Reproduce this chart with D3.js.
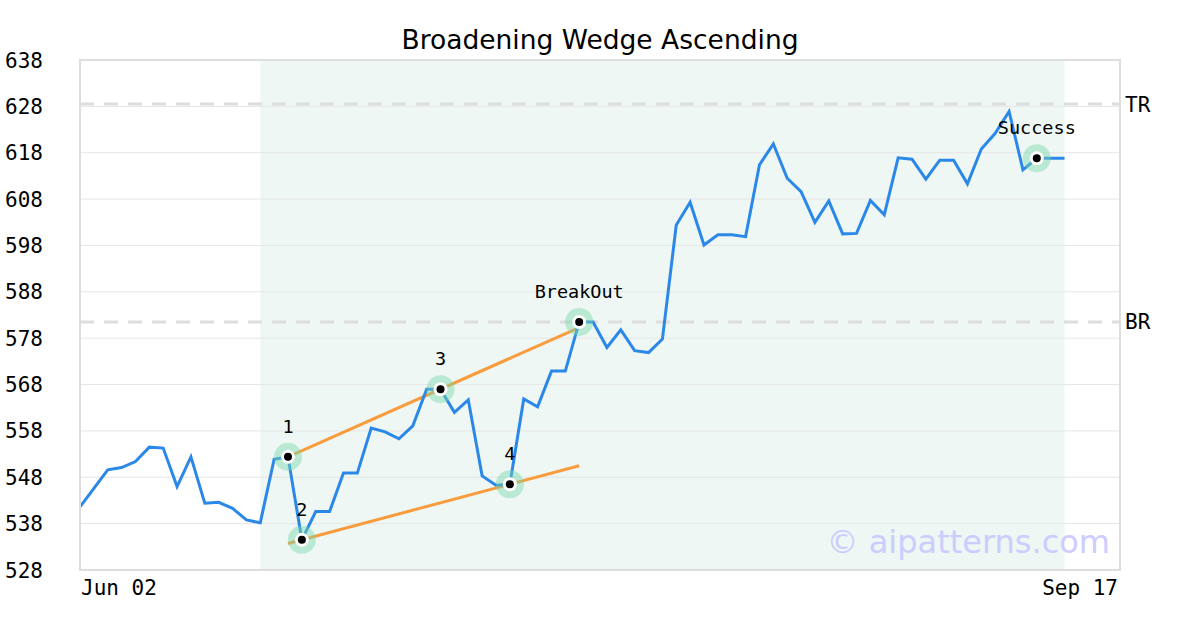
<!DOCTYPE html>
<html><head><meta charset="utf-8">
<script src="https://cdn.jsdelivr.net/npm/d3@7/dist/d3.min.js"></script>
<style>body{margin:0;background:#fff}svg{display:block}</style>
</head><body><svg id="c" width="1200" height="630"></svg>
<script>
const title = "Broadening Wedge Ascending";
const prices = [541.6,545.6,549.6,550.1,551.4,554.5,554.3,546.0,552.4,542.4,
542.6,541.3,538.8,538.2,551.9,552.4,534.5,540.6,540.6,548.9,
548.9,558.6,557.8,556.3,559.1,567.0,567.0,562.0,564.7,548.3,
546.3,546.5,564.9,563.2,570.9,570.9,581.5,581.5,576.0,579.8,
575.3,574.9,577.8,602.4,607.3,598.1,600.3,600.3,599.9,615.4,
619.9,612.5,609.6,603.0,607.6,600.5,600.6,607.7,604.6,616.9,
616.6,612.3,616.4,616.4,611.3,618.8,622.2,626.9,614.3,616.8,
616.8,616.8];
const yTicks = [528,538,548,558,568,578,588,598,608,618,628,638];
const xTickLabels = ["Jun 02","Sep 17"];
const xDomain = [0,75];
const shadeRange = [13,71];
const levelNames = ["TR","BR"];
const levelValues = [628.5,581.5];
const pivotIdx = [15,16,26,31,36,69];
const pivotLabels = ["1","2","3","4","BreakOut","Success"];
const upperLine = [[15,552.4],[36,580.3]];
const lowerLine = [[15,533.7],[36,550.5]];

const svg = d3.select("#c");
const L=80,R=1120,T=60,B=570;
const x = d3.scaleLinear().domain(xDomain).range([L,R]);
const y = d3.scaleLinear().domain([528,638]).range([B,T]);

svg.append("text").attr("x",600).attr("y",49).attr("text-anchor","middle")
  .attr("font-family","DejaVu Sans").attr("font-size",26.5).attr("fill","#000").text(title);

svg.append("rect").attr("x",x(shadeRange[0])).attr("y",T).attr("width",x(shadeRange[1])-x(shadeRange[0]))
  .attr("height",B-T).attr("fill","#eef7f3");

// grid
svg.append("g").selectAll("line").data(yTicks.slice(1,-1)).join("line")
  .attr("x1",L).attr("x2",R).attr("y1",d=>y(d)).attr("y2",d=>y(d))
  .attr("stroke","#e6e6e6").attr("stroke-width",1);

// y labels
svg.append("g").selectAll("text").data(yTicks).join("text")
  .attr("x",5).attr("y",d=>y(d)+7.5).attr("font-family","DejaVu Sans Mono").attr("font-size",21)
  .attr("fill","#000").text(d=>d);

// x labels
svg.append("text").attr("x",81).attr("y",595).attr("font-family","DejaVu Sans Mono").attr("font-size",21).text(xTickLabels[0]);
svg.append("text").attr("x",1118).attr("y",595).attr("text-anchor","end").attr("font-family","DejaVu Sans Mono").attr("font-size",21).text(xTickLabels[1]);

// levels
levelValues.forEach((v,i)=>{
  svg.append("line").attr("x1",L).attr("x2",R).attr("y1",y(v)).attr("y2",y(v))
    .attr("stroke","#dddddd").attr("stroke-width",3).attr("stroke-dasharray","14,10");
  svg.append("text").attr("x",1125).attr("y",y(v)+7.5).attr("font-family","DejaVu Sans Mono")
    .attr("font-size",21).text(levelNames[i]);
});

// watermark
svg.append("text").attr("x",1110).attr("y",553).attr("text-anchor","end").attr("font-family","DejaVu Sans")
  .attr("font-size",32).attr("fill","#ccccff").text("\u00a9 aipatterns.com");

// trend lines
const ln = d3.line().x(d=>x(d[0])).y(d=>y(d[1]));
[upperLine,lowerLine].forEach(d=>{
  svg.append("path").attr("d",ln(d)).attr("fill","none").attr("stroke","#f89c3e").attr("stroke-width",3);
});

// price line
svg.append("path").datum(prices).attr("d",d3.line().x((d,i)=>x(i)).y(d=>y(d)))
  .attr("fill","none").attr("stroke","#2b88e8").attr("stroke-width",3).attr("stroke-linejoin","miter");

// pivots
pivotIdx.forEach((p,i)=>{
  const cx=x(p), cy=y(prices[p]);
  svg.append("circle").attr("cx",cx).attr("cy",cy).attr("r",14).attr("fill","rgba(120,215,170,0.45)");
  svg.append("circle").attr("cx",cx).attr("cy",cy).attr("r",7).attr("fill","#fff");
  svg.append("circle").attr("cx",cx).attr("cy",cy).attr("r",4).attr("fill","#000");
  svg.append("text").attr("x",cx).attr("y",cy-24).attr("text-anchor","middle")
    .attr("font-family","DejaVu Sans Mono").attr("font-size",18.5).attr("fill","#000").text(pivotLabels[i]);
});

// frame
svg.append("rect").attr("x",L).attr("y",T).attr("width",R-L).attr("height",B-T)
  .attr("fill","none").attr("stroke","#dddddd").attr("stroke-width",2);
</script></body></html>
